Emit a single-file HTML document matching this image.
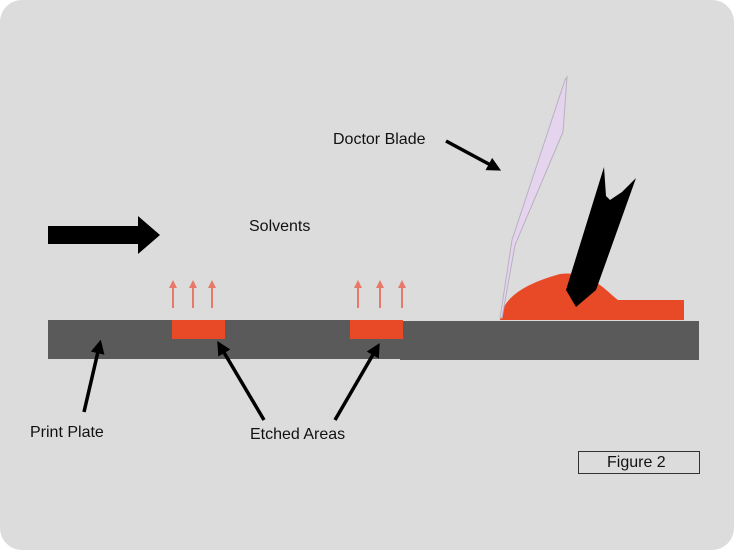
<!DOCTYPE html>
<html><head><style>
body{margin:0;background:#fff;}
.wrap{position:relative;width:734px;height:550px;background:#dcdcdc;border-radius:22px;overflow:hidden;font-family:"Liberation Sans",sans-serif;}
.t{position:absolute;font-size:16px;color:#111;}
</style></head><body><div class="wrap">
<svg width="734" height="550" style="position:absolute;left:0;top:0">
<defs><marker id="ah" markerWidth="4" markerHeight="4" refX="3" refY="2" orient="auto"><path d="M0,0L4,2L0,4z" fill="#000"/></marker>
<marker id="rh" markerWidth="4" markerHeight="4" refX="3" refY="2" orient="auto"><path d="M0,0L4,2L0,4z" fill="#e8786a"/></marker></defs>
<rect x="48" y="320" width="352" height="39" fill="#5a5a5a"/>
<rect x="400" y="321" width="299" height="39" fill="#5a5a5a"/>
<rect x="172" y="320" width="53" height="19" fill="#e84a27"/>
<rect x="350" y="320" width="53" height="19" fill="#e84a27"/>
<g stroke="#e8786a" stroke-width="2" marker-end="url(#rh)">
<line x1="173" y1="308" x2="173" y2="282"/><line x1="193" y1="308" x2="193" y2="282"/><line x1="212" y1="308" x2="212" y2="282"/>
<line x1="358" y1="308" x2="358" y2="282"/><line x1="380" y1="308" x2="380" y2="282"/><line x1="402" y1="308" x2="402" y2="282"/>
</g>
<polygon points="48,226 138,226 138,216 160,235 138,254 138,244 48,244" fill="#000"/>
<path d="M500,320 C502,300 520,285 560,274 C590,270 605,290 618,300 L684,300 L684,320 Z" fill="#e84a27"/>
<polygon points="567,77 563,132 515,245 502,318 500,318 512,240 565,80" fill="#e5d4ee" stroke="#b9b0c0" stroke-width="1"/>
<polygon points="604,167 606,196 610,200 622,192 636,178 596,290 576,307 566,290" fill="#000"/>
<g stroke="#000" stroke-width="3.5" marker-end="url(#ah)">
<line x1="446" y1="141" x2="498" y2="169"/>
<line x1="84" y1="412" x2="100" y2="343"/>
<line x1="264" y1="420" x2="219" y2="344"/>
<line x1="335" y1="420" x2="378" y2="346"/>
</g>
<rect x="578.5" y="451.5" width="121" height="22" fill="none" stroke="#333" stroke-width="1"/>
</svg>
<div class="t" style="left:333px;top:131px">Doctor Blade</div>
<div class="t" style="left:249px;top:218px">Solvents</div>
<div class="t" style="left:30px;top:424px">Print Plate</div>
<div class="t" style="left:250px;top:426px">Etched Areas</div>
<div class="t" style="left:607px;top:454px">Figure 2</div>
</div></body></html>
